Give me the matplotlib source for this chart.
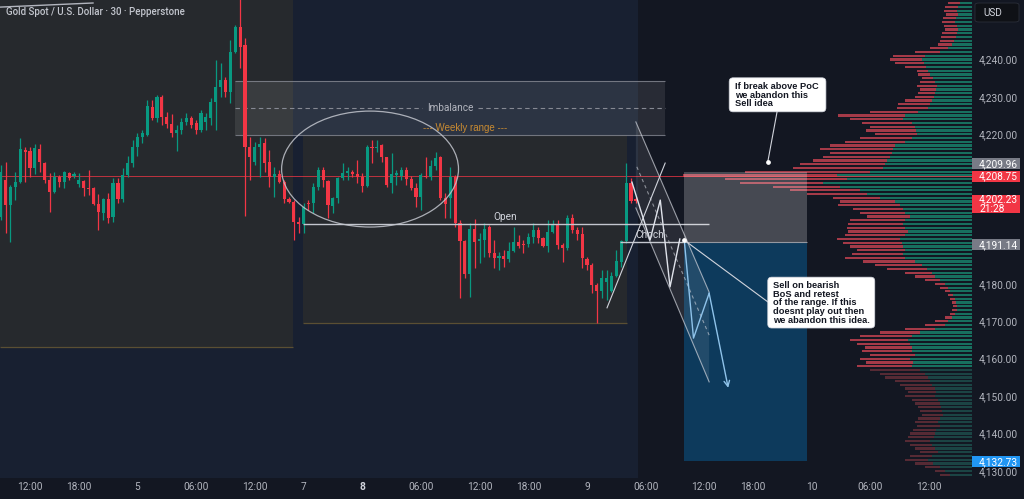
import numpy as np
import matplotlib.pyplot as plt
from matplotlib.patches import Rectangle, Ellipse, Polygon, FancyBboxPatch
from matplotlib.transforms import blended_transform_factory

plt.rcParams['font.family'] = ['Roboto', 'DejaVu Sans']

# XAUUSD 30 min candles, first visible bar has index -6
first_bar = -6
opens = [4197.9, 4207.8, 4201.1, 4205.9, 4207.2, 4215.8, 4215.5, 4211.0, 4216.1, 4212.3,
         4207.8, 4204.6, 4208.6, 4207.2, 4209.7, 4208.9, 4206.7, 4207.5, 4205.6, 4205.6,
         4201.4, 4199.0, 4202.7, 4197.9, 4207.0, 4202.7, 4209.1, 4212.3, 4216.6, 4219.3,
         4219.8, 4227.3, 4224.4, 4230.0, 4224.6, 4222.8, 4220.3, 4221.1, 4223.3, 4224.4,
         4223.0, 4221.1, 4223.3, 4224.4, 4228.6, 4232.6, 4234.5, 4231.3, 4242.0, 4248.7,
         4243.9, 4216.6, 4212.6, 4216.6, 4217.7, 4212.6, 4208.6, 4209.4, 4207.2, 4202.7,
         4201.9, 4196.6, 4196.0, 4201.6, 4201.6, 4205.9, 4210.5, 4207.5, 4200.8, 4203.0,
         4208.3, 4209.7, 4209.9, 4209.4, 4208.6, 4206.2, 4216.6, 4216.3, 4217.1, 4213.9,
         4207.0, 4209.1, 4208.9, 4210.5, 4208.0, 4205.6, 4203.2, 4208.9, 4208.6, 4211.5,
         4213.9, 4203.0, 4203.0, 4208.6, 4196.3, 4191.5, 4182.6, 4194.7, 4191.5, 4191.7,
         4195.2, 4188.3, 4186.9, 4187.5, 4186.7, 4188.8, 4191.2, 4190.7, 4190.7, 4192.5,
         4194.4, 4192.3, 4190.1, 4193.9, 4196.0, 4190.4, 4189.6, 4197.6, 4194.4, 4193.3,
         4186.7, 4185.1, 4179.7, 4178.1, 4180.5, 4178.1, 4182.1, 4185.9, 4191.5, 4207.0,
         4202.7]
highs = [4211.8, 4212.6, 4206.4, 4209.9, 4219.0, 4216.6, 4216.6, 4217.4, 4217.4, 4212.6,
         4209.7, 4209.9, 4209.1, 4210.2, 4209.9, 4209.9, 4209.7, 4207.8, 4210.5, 4205.9,
         4204.0, 4203.0, 4204.3, 4208.3, 4208.3, 4211.0, 4214.2, 4218.5, 4220.3, 4221.1,
         4229.2, 4229.2, 4230.5, 4230.5, 4226.0, 4225.5, 4222.5, 4224.4, 4225.7, 4224.9,
         4223.8, 4226.5, 4225.7, 4229.7, 4239.9, 4239.1, 4235.3, 4245.2, 4249.2, 4257.0,
         4245.7, 4219.3, 4217.9, 4219.3, 4219.0, 4215.8, 4211.3, 4210.5, 4207.8, 4203.2,
         4202.4, 4197.9, 4201.6, 4202.4, 4207.0, 4211.3, 4211.3, 4207.8, 4203.2, 4208.6,
         4212.3, 4211.3, 4210.5, 4213.1, 4209.7, 4217.1, 4218.5, 4218.5, 4217.4, 4213.9,
         4215.0, 4210.5, 4211.3, 4211.3, 4208.9, 4207.0, 4209.7, 4213.9, 4213.1, 4215.3,
         4214.2, 4204.3, 4211.3, 4209.1, 4197.1, 4191.7, 4196.3, 4197.4, 4193.6, 4196.3,
         4195.7, 4191.7, 4188.5, 4189.1, 4191.2, 4195.2, 4193.1, 4191.7, 4193.6, 4196.3,
         4195.2, 4192.5, 4197.1, 4197.1, 4197.1, 4190.9, 4198.4, 4198.7, 4195.2, 4195.2,
         4187.2, 4185.6, 4180.2, 4183.7, 4183.7, 4183.2, 4189.1, 4191.7, 4212.3, 4208.3,
         4203.2]
lows = [4197.1, 4193.6, 4191.2, 4202.4, 4207.0, 4207.2, 4208.6, 4209.4, 4209.9, 4207.0,
        4199.2, 4204.3, 4205.9, 4205.6, 4207.8, 4208.3, 4205.9, 4203.5, 4203.8, 4201.1,
        4194.4, 4197.1, 4196.3, 4196.6, 4201.6, 4201.9, 4208.6, 4211.3, 4214.2, 4217.7,
        4219.6, 4223.8, 4223.3, 4222.5, 4221.7, 4219.3, 4215.5, 4220.1, 4222.5, 4221.7,
        4220.1, 4220.6, 4221.1, 4222.5, 4221.1, 4230.0, 4230.0, 4228.4, 4241.8, 4237.7,
        4198.2, 4207.8, 4211.8, 4208.6, 4209.9, 4205.9, 4203.2, 4207.0, 4201.6, 4201.6,
        4191.7, 4193.6, 4193.6, 4199.8, 4199.0, 4205.1, 4205.9, 4197.6, 4199.0, 4201.6,
        4207.8, 4207.8, 4208.6, 4207.0, 4204.6, 4205.9, 4212.3, 4215.3, 4212.6, 4205.9,
        4204.3, 4206.4, 4207.8, 4206.4, 4205.1, 4200.6, 4199.8, 4208.3, 4207.8, 4210.5,
        4202.4, 4197.6, 4197.6, 4195.2, 4176.2, 4181.6, 4176.5, 4184.2, 4185.6, 4187.2,
        4187.2, 4184.2, 4183.7, 4184.5, 4185.9, 4188.5, 4189.6, 4188.3, 4189.9, 4190.9,
        4190.9, 4189.9, 4188.5, 4193.6, 4189.4, 4185.9, 4189.1, 4193.6, 4191.7, 4184.2,
        4183.7, 4177.6, 4169.5, 4176.2, 4175.7, 4177.8, 4181.9, 4184.5, 4190.9, 4201.6,
        4201.6]
closes = [4209.9, 4201.1, 4205.9, 4207.2, 4216.1, 4215.3, 4211.0, 4216.3, 4212.6, 4207.8,
          4204.6, 4208.6, 4207.2, 4209.9, 4208.3, 4209.4, 4207.8, 4205.6, 4205.3, 4201.4,
          4199.2, 4202.7, 4197.6, 4207.0, 4202.7, 4209.1, 4212.3, 4216.6, 4219.3, 4220.3,
          4227.6, 4224.4, 4230.0, 4224.6, 4222.8, 4220.3, 4221.1, 4223.3, 4224.4, 4222.5,
          4221.1, 4225.7, 4224.6, 4228.6, 4232.6, 4234.5, 4231.3, 4242.0, 4248.7, 4243.4,
          4216.6, 4213.9, 4216.6, 4217.4, 4212.3, 4208.6, 4209.4, 4207.2, 4202.7, 4201.9,
          4196.6, 4196.0, 4200.6, 4201.4, 4205.9, 4210.5, 4207.8, 4201.1, 4203.0, 4208.3,
          4209.7, 4209.9, 4209.4, 4208.6, 4206.2, 4216.6, 4216.3, 4216.6, 4213.9, 4206.4,
          4209.4, 4209.7, 4210.5, 4208.0, 4205.6, 4203.2, 4209.1, 4208.6, 4211.5, 4213.7,
          4203.0, 4201.4, 4208.6, 4196.3, 4191.5, 4182.6, 4194.7, 4191.2, 4192.0, 4194.7,
          4188.3, 4186.9, 4187.5, 4186.7, 4188.8, 4191.2, 4190.1, 4190.4, 4192.5, 4194.4,
          4192.3, 4190.1, 4193.9, 4196.0, 4190.4, 4189.6, 4197.6, 4194.4, 4193.3, 4186.9,
          4185.1, 4179.7, 4178.1, 4181.6, 4181.6, 4182.1, 4186.1, 4191.5, 4207.0, 4202.2,
          4202.23]

# time axis (bar index of each label)
time_ticks = [0, 10, 22, 34, 46, 56, 68, 80, 92, 102, 114, 126, 138, 148, 160, 172, 184]
time_labels = ['12:00', '18:00', '5', '06:00', '12:00', '7', '8', '06:00', '12:00',
               '18:00', '9', '06:00', '12:00', '18:00', '10', '06:00', '12:00']
price_ticks = [4240, 4230, 4220, 4180, 4170, 4160, 4150, 4140, 4130]

# key levels
poc_price = 4208.75
last_price = 4202.23
stop_top = 4209.96
entry = 4191.14
target = 4132.73
open_level = 4196.0
choch_level = 4191.3
imb_low, imb_mid, imb_high = 4219.8, 4227.0, 4234.25
week_low = 4169.5
left_box_low = 4163.1

# visible range volume profile, one row per dollar (4255 down to 4129)
vp_levels = np.arange(4255, 4128, -1)
vp_total = [24, 27, 28, 26, 29, 30, 28, 27, 30, 31,
            32, 34, 42, 57, 79, 82, 77, 67, 55, 54,
            50, 52, 55, 52, 54, 57, 67, 74, 75, 102,
            134, 122, 110, 102, 106, 97, 112, 127, 142, 152,
            142, 149, 159, 172, 179, 227, 289, 247, 232, 199,
            182, 165, 139, 132, 134, 119, 112, 105, 122, 124,
            125, 124, 127, 135, 129, 122, 115, 120, 127, 109,
            97, 85, 67, 57, 47, 37, 32, 27, 24, 22,
            20, 19, 20, 22, 27, 37, 47, 67, 92, 112,
            122, 115, 107, 110, 102, 112, 106, 115, 102, 92,
            87, 77, 72, 67, 64, 67, 60, 57, 54, 52,
            50, 54, 57, 55, 59, 62, 64, 67, 62, 57,
            52, 62, 67, 57, 47, 37, 32]
vp_buy = [12, 14, 15, 14, 16, 17, 15, 14, 15, 16,
          18, 20, 24, 32, 47, 50, 48, 46, 44, 42,
          39, 37, 35, 36, 37, 38, 40, 42, 44, 54,
          67, 69, 60, 57, 56, 55, 60, 67, 77, 79,
          80, 82, 85, 87, 89, 102, 135, 125, 149, 132,
          112, 105, 92, 77, 72, 69, 67, 62, 67, 69,
          67, 64, 67, 72, 70, 69, 67, 69, 67, 57,
          50, 45, 40, 37, 32, 27, 24, 22, 19, 17,
          16, 15, 15, 17, 20, 24, 27, 37, 52, 60,
          64, 62, 60, 60, 57, 62, 59, 60, 52, 47,
          44, 42, 40, 37, 36, 37, 34, 32, 31, 30,
          29, 32, 34, 32, 36, 37, 38, 42, 40, 37,
          34, 40, 44, 39, 32, 27, 22]

# drawings (bar index, price)
trend_x, trend_y = [118.1, 130.0], [4173.6, 4212.3]
zig_x = [123.2, 126.9, 129.0, 131.0, 133.0]
zig_y = [4207.2, 4191.7, 4202.4, 4179.2, 4192.0]
proj_x = [133.9, 135.8, 139.0]
proj_y = [4191.7, 4165.5, 4177.5]
arrow_end = (142.9, 4152.2)
flag_x = [124.0, 139.0, 139.0, 124.0]
flag_y = [4223.3, 4177.8, 4153.8, 4200.3]

BG = '#131722'
NAVY = '#182031'
GREY = '#26292d'
GREEN = '#089981'
RED = '#f23645'
TXT = '#b2b5be'

x_left, x_right = -6.14, 192.8
y_low, y_high = 4128.1, 4255.9

fig = plt.figure(figsize=(10.24, 4.99), dpi=100, facecolor=BG)
ax = fig.add_axes([0, 21 / 499, 972 / 1024, 478 / 499])
ax.set_facecolor(BG)
for s in ax.spines.values():
    s.set_visible(False)

# session backgrounds
ax.axvspan(x_left, 124.4, color=NAVY, lw=0, zorder=0)
ax.add_patch(Rectangle((x_left, left_box_low), 53.8 - x_left, 100, color=GREY, lw=0, zorder=0.5))
ax.add_patch(Rectangle((55.9, week_low), 122.2 - 55.9, imb_low - week_low, color=GREY, lw=0, zorder=0.5))
ax.hlines(left_box_low, x_left, 53.8, color='#5a4f33', lw=0.9, zorder=0.6)
ax.hlines(week_low, 55.9, 122.2, color='#5a4f33', lw=0.9, zorder=0.6)

# imbalance box
ax.add_patch(Rectangle((42, imb_low), 88, imb_high - imb_low, color='white', alpha=0.09, lw=0, zorder=1))
ax.hlines([imb_low, imb_high], 42, 130, color='#868993', lw=0.8, alpha=0.8, zorder=1.1)
ax.hlines(imb_mid, 42, 80.3, color='#868993', lw=0.8, linestyles=(0, (4, 3)), zorder=1.1)
ax.hlines(imb_mid, 91.7, 130, color='#868993', lw=0.8, linestyles=(0, (4, 3)), zorder=1.1)
ax.text(86.0, imb_mid, 'Imbalance', color=TXT, fontsize=7.2, ha='center', va='center', zorder=5)
ax.text(89.0, 4221.7, '--- Weekly range ---', color='#c98b32', fontsize=7.0,
        family=['Liberation Sans'], ha='center', va='center', zorder=5)

# volume profile
vp_total = np.array(vp_total)
vp_buy = np.array(vp_buy)
scale = 1 / 4.886
dim = vp_levels < 4157.5
red_c = np.where(dim, '#562a34', '#a53a48')
teal_c = np.where(dim, '#1b4444', '#17705f')
ax.barh(vp_levels, vp_total * scale, left=x_right - vp_total * scale, height=0.6,
        color=red_c, lw=0, zorder=1.5)
ax.barh(vp_levels, vp_buy * scale, left=x_right - vp_buy * scale, height=0.6,
        color=teal_c, lw=0, zorder=1.6)

# price line
ax.axhline(poc_price, color=RED, lw=0.7, alpha=0.75, zorder=2.5)

# candles
o = np.array(opens); h = np.array(highs); l = np.array(lows); c = np.array(closes)
x = np.arange(len(o)) + first_bar
cols = np.where(c >= o, GREEN, RED)
ax.vlines(x, l, h, colors=cols, lw=0.9, zorder=3)
ax.bar(x, np.maximum(np.abs(c - o), 0.35), bottom=np.minimum(o, c), width=0.64,
       color=cols, lw=0, zorder=3.1)

# ellipse around the range
ax.add_patch(Ellipse((69.6, 4210.7), 36.2, 31.0, fill=False, ec='#c3c6ce', lw=0.9, alpha=0.85, zorder=4))

# open / choch lines
ax.hlines(open_level, 55.9, 139.0, color='#c3c6ce', lw=1.0, zorder=4)
ax.text(97.2, 4197.9, 'Open', color='#d1d4dc', fontsize=7.2, ha='center', va='center', zorder=5)
ax.hlines(choch_level, 120.8, 133.6, color='#c3c6ce', lw=1.0, zorder=4)
ax.text(126.9, 4193.2, 'Choch', color='#d1d4dc', fontsize=7.2, ha='center', va='center', zorder=5)

# trade boxes
ax.add_patch(Rectangle((133.85, target), 159.0 - 133.85, entry - target, color='#0d3a5c', lw=0, zorder=2))
ax.add_patch(Rectangle((133.85, entry), 159.0 - 133.85, stop_top - entry, color='white', alpha=0.22, lw=0, zorder=4))
ax.hlines(entry, 133.85, 159.0, color='#9598a1', lw=0.8, zorder=4.1)

# flag drawing
ax.add_patch(Polygon(np.column_stack([flag_x, flag_y]), closed=True, fc='white', alpha=0.09, lw=0, zorder=4.2))
ax.plot(flag_x[:2], flag_y[:2], color='#d1d4dc', lw=0.8, alpha=0.7, zorder=4.3)
ax.plot(flag_x[2:], flag_y[2:], color='#d1d4dc', lw=0.8, alpha=0.7, zorder=4.3)
ax.plot([124.2, 139.0], [4211.3, 4166.3], color='#d1d4dc', lw=0.8, alpha=0.6,
        ls=(0, (3, 3)), zorder=4.3)
ax.plot(trend_x, trend_y, color='#d1d4dc', lw=0.8, zorder=4.4)
ax.plot(zig_x, zig_y, color='#e0e3eb', lw=1.0, zorder=4.5)
ax.plot(proj_x, proj_y, color='#8fc3ea', lw=1.0, zorder=4.5)
ax.annotate('', xy=arrow_end, xytext=(proj_x[-1], proj_y[-1]),
            arrowprops=dict(arrowstyle='->', color='#8fc3ea', lw=1.0, shrinkA=0, shrinkB=0),
            zorder=4.5)

# stray line top left
ax.plot([x_left, 12.9], [4254.0, 4255.1], color='#b2b5be', lw=1.0, zorder=5)

# callouts
ax.plot([133.9, 151.0], [4191.7, 4175.2], color='#d1d4dc', lw=0.8, zorder=5)
ax.plot([151.0, 152.9], [4212.6, 4226.0], color='#d1d4dc', lw=0.8, zorder=5)
ax.plot([133.9, 151.0], [4191.7, 4212.6], 'o', color='white', ms=2.4, zorder=5.5)
asp = 4.886 / 3.74
ax.add_patch(FancyBboxPatch((143.1, 4226.0), 19.8, 9.1, boxstyle='round,pad=0,rounding_size=0.8',
                            mutation_aspect=asp, fc='white', ec='#d1d4dc', lw=0.5, zorder=6))
ax.text(144.3, 4230.5, 'If break above PoC\nwe abandon this\nSell idea', color='#131722',
        fontsize=6.7, weight='bold', family=['Liberation Sans'], ha='left', va='center',
        linespacing=0.95, zorder=7)
ax.add_patch(FancyBboxPatch((151.0, 4168.2), 21.9, 13.6, boxstyle='round,pad=0,rounding_size=0.8',
                            mutation_aspect=asp, fc='white', ec='#d1d4dc', lw=0.5, zorder=6))
ax.text(152.1, 4174.9, 'Sell on bearish\nBoS and retest\nof the range. If this\n'
        'doesnt play out then\nwe abandon this idea.', color='#131722',
        fontsize=6.7, weight='bold', family=['Liberation Sans'], ha='left', va='center',
        linespacing=0.95, zorder=7)

# axes ticks
ax.yaxis.tick_right()
ax.set_yticks(price_ticks)
ax.set_yticklabels([f'{p:,.2f}' for p in price_ticks])
ax.tick_params(axis='y', length=0, pad=5, labelsize=7.3, labelcolor=TXT)
ax.set_xticks(time_ticks)
ax.set_xticklabels(time_labels)
ax.tick_params(axis='x', length=0, pad=3, labelsize=7.3, labelcolor=TXT)
for t in ax.get_xticklabels():
    if t.get_text() == '8':
        t.set_fontweight('bold')
        t.set_color('#d1d4dc')

# price scale labels
tr = blended_transform_factory(fig.transFigure, ax.transData)
px = 3.74
labels = [('4,209.96', 4212.1, '#787b86', 1), ('4,208.75', poc_price, RED, 1),
          ('4,202.23\n21:28', 4201.4, RED, 2), ('4,191.14', 4190.4, '#787b86', 1),
          (f'{target:,.2f}', 4132.4, '#2196f3', 1)]
for txt, ypos, col, n in labels:
    hh = (11 if n == 1 else 18) / px
    r = Rectangle((972 / 1024, ypos - hh / 2), 48 / 1024, hh, transform=tr, color=col,
                  lw=0, zorder=10, clip_on=False)
    fig.add_artist(r)
    fig.text(979 / 1024, ypos, txt, transform=tr, color='white', fontsize=7.3,
             ha='left', va='center', linespacing=1.0, zorder=11)

# USD box and title
fig.add_artist(FancyBboxPatch((975 / 1024, 1 - 22 / 499), 44 / 1024, 19 / 499,
                              boxstyle='round,pad=0,rounding_size=0.004', transform=fig.transFigure,
                              fc='#0f1116', ec='#2a2e39', lw=0.6))
fig.text(983 / 1024, 1 - 12.5 / 499, 'USD', color='#d1d4dc', fontsize=7.2, va='center')
fig.text(6 / 1024, 1 - 12 / 499, 'Gold Spot / U.S. Dollar · 30 · Pepperstone', color='#c3c6ce',
         fontsize=7.0, weight='medium', va='center', ha='left')

ax.set_xlim(x_left, x_right)
ax.set_ylim(y_low, y_high)
fig.savefig('out.png', dpi=100, facecolor=BG)
